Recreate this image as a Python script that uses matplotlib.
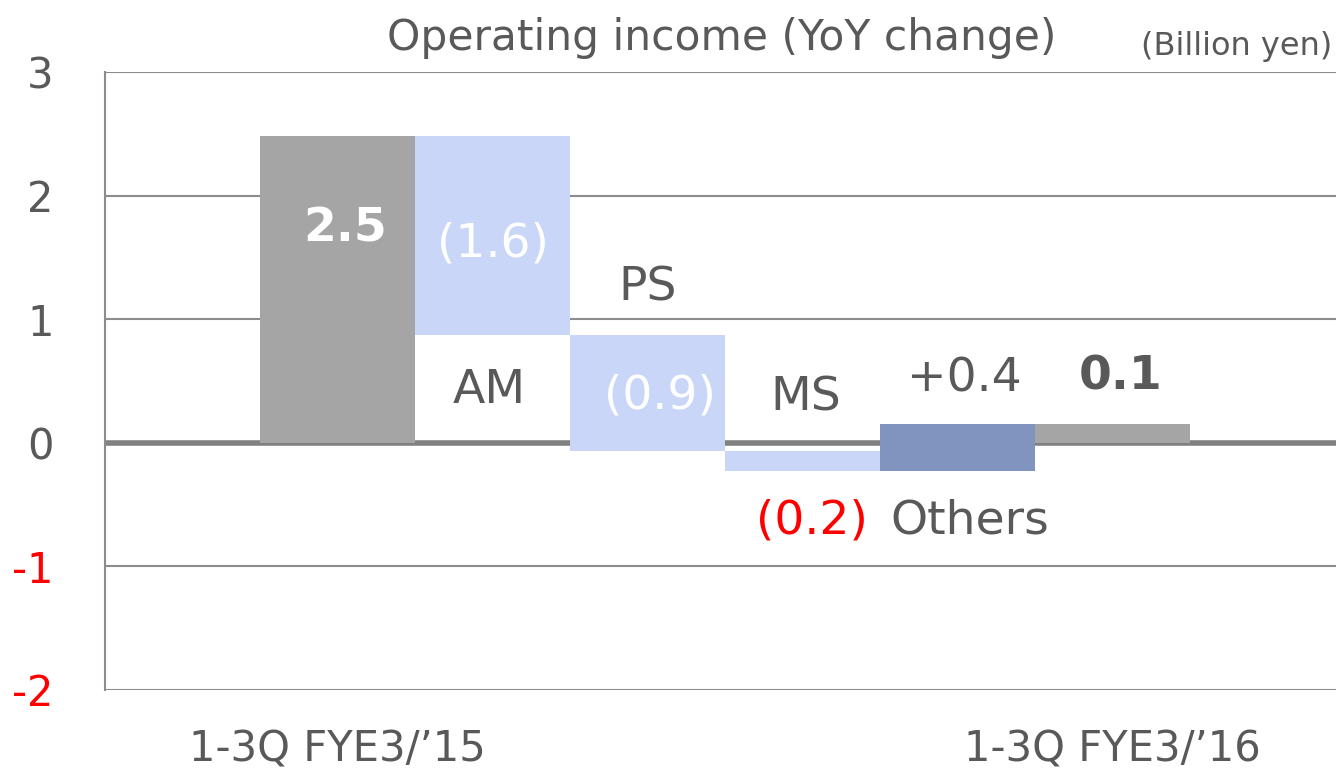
import numpy as np
import matplotlib
matplotlib.use("Agg")
import matplotlib.pyplot as plt

# Données (milliards de yens)
start_label = "1-3Q FYE3/\u201915"
end_label = "1-3Q FYE3/\u201916"
start_value = 2.48
segments = ["AM", "PS", "MS", "Others"]
changes = [-1.61, -0.94, -0.16, 0.38]
change_labels = ["(1.6)", "(0.9)", "(0.2)", "+0.4"]
start_text = "2.5"
end_text = "0.1"

gris = "#a5a5a5"
bleu_clair = "#c9d6f8"
bleu = "#8094bf"
texte = "#595959"

# calcul du waterfall
cumul = start_value + np.cumsum(changes)
bas = np.concatenate(([start_value], cumul[:-1]))
end_value = cumul[-1]

fig = plt.figure(figsize=(13.36, 7.73), dpi=100)
ax = fig.add_axes([0.0786, 0.1074, 0.9214, 0.7995])

x = np.arange(1, 7)
hauteurs = [start_value] + list(cumul - bas) + [end_value]
bases = [0] + list(bas) + [0]
couleurs = [gris, bleu_clair, bleu_clair, bleu_clair, bleu, gris]
ax.bar(x, hauteurs, bottom=bases, width=1.0, align="edge", color=couleurs, zorder=3)

ax.set_xlim(0, 7.94)
ax.set_ylim(-2, 3)
ax.set_yticks([-2, -1, 0, 1, 2, 3])
ax.set_yticklabels(["-2", "-1", "0", "1", "2", "3"])
for lab in ax.get_yticklabels():
    lab.set_color("red" if lab.get_text().startswith("-") else texte)
ax.tick_params(axis="y", length=0, pad=37, labelsize=30)
ax.set_xticks([1.5, 6.5])
ax.set_xticklabels([start_label, end_label])
ax.tick_params(axis="x", length=0, pad=28, labelsize=30, labelcolor=texte)

for yv in [-2, -1, 1, 2, 3]:
    ax.axhline(yv, color="#8c8c8c", lw=1.5, zorder=1)
ax.axhline(0, color="#808080", lw=4, zorder=2)
for s in ["top", "right", "bottom"]:
    ax.spines[s].set_visible(False)
ax.spines["left"].set_color("#8c8c8c")
ax.spines["left"].set_linewidth(1.5)

# étiquettes
fs = 34
ax.text(1.55, start_value - 0.75, start_text, ha="center", va="center", fontsize=fs,
        fontweight="bold", color="white", zorder=4)
ax.text(2.5, (bas[0] + cumul[0]) / 2 - 0.07, change_labels[0], ha="center", va="center",
        fontsize=fs, color="white", zorder=4)
ax.text(2.48, cumul[0] - 0.45, segments[0], ha="center", va="center", fontsize=fs, color=texte, zorder=4)
ax.text(3.5, bas[1] + 0.38, segments[1], ha="center", va="center", fontsize=fs, color=texte, zorder=4)
ax.text(3.58, (bas[1] + cumul[1]) / 2 - 0.02, change_labels[1], ha="center", va="center",
        fontsize=fs, color="white", zorder=4)
ax.text(4.52, bas[2] + 0.43, segments[2], ha="center", va="center", fontsize=fs, color=texte, zorder=4)
ax.text(4.56, cumul[2] - 0.40, change_labels[2], ha="center", va="center", fontsize=fs, color="red", zorder=4)
ax.text(5.54, cumul[3] + 0.37, change_labels[3], ha="center", va="center", fontsize=fs, color=texte, zorder=4)
ax.text(5.58, bas[3] - 0.40, segments[3], ha="center", va="center", fontsize=fs, color=texte, zorder=4)
ax.text(6.55, end_value + 0.38, end_text, ha="center", va="center", fontsize=fs,
        fontweight="bold", color=texte, zorder=4)

fig.text(0.54, 0.951, "Operating income (YoY change)", ha="center", va="center", fontsize=30.5, color=texte)
fig.text(0.997, 0.94, "(Billion yen)", ha="right", va="center", fontsize=23, color=texte)

fig.savefig("out.png", dpi=100)
